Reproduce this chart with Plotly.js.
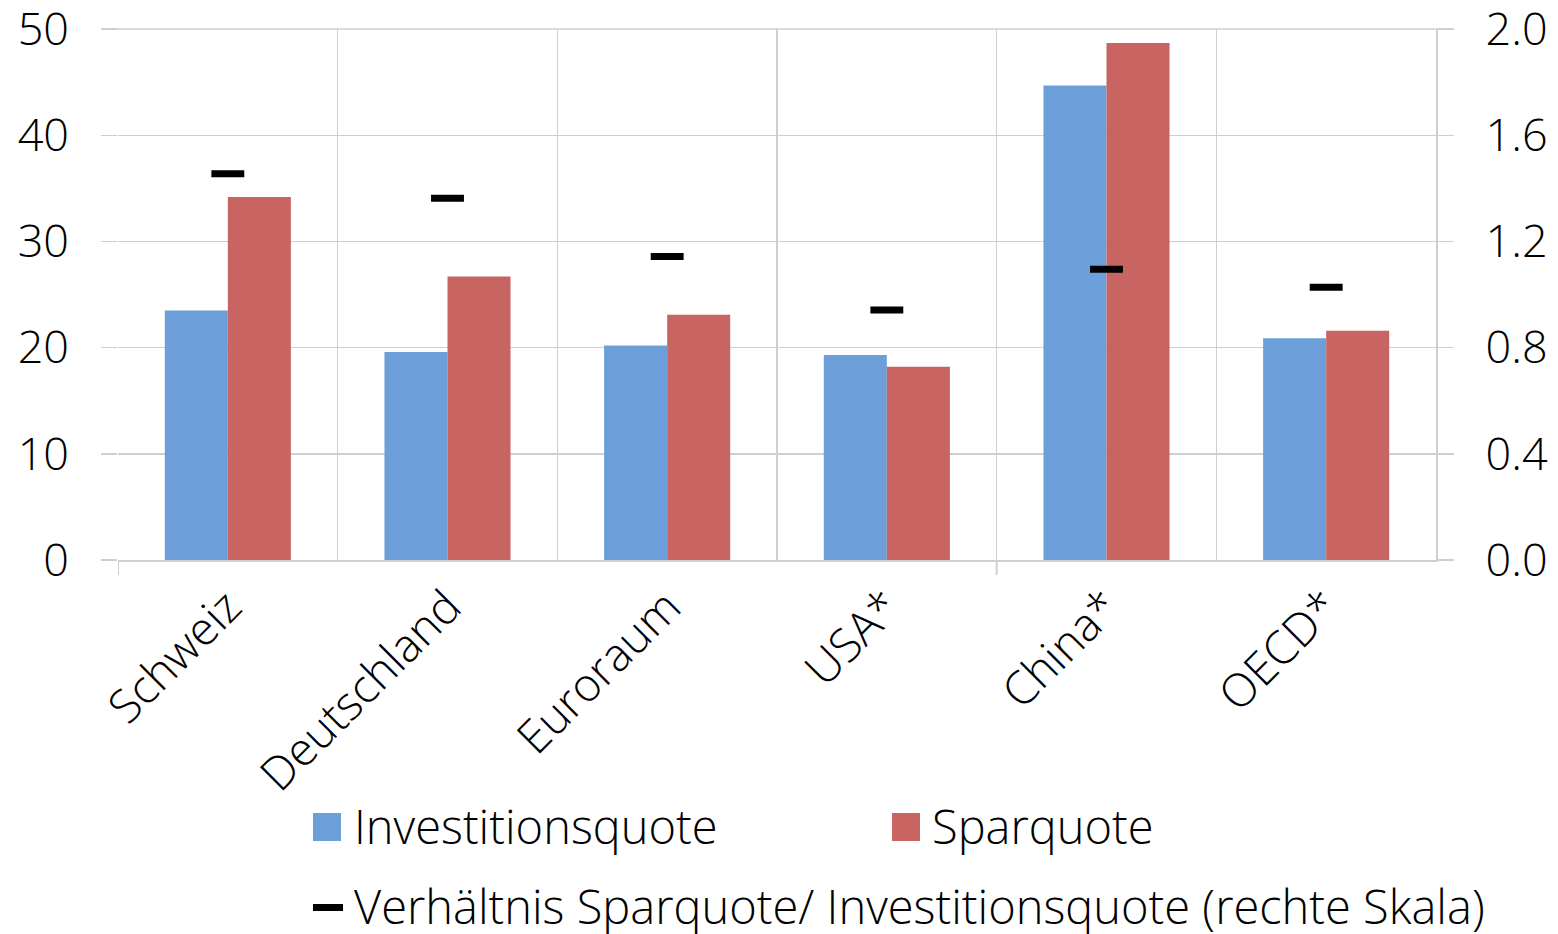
<!DOCTYPE html>
<html><head><meta charset="utf-8">
<script src="https://cdn.plot.ly/plotly-3.0.1.min.js"></script>
<style>html,body{margin:0;padding:0;background:#fff;}#chart{width:1558px;height:934px;}</style>
</head><body><div id="chart"></div>
<script>
var categories = ["Schweiz", "Deutschland", "Euroraum", "USA*", "China*", "OECD*"];
var investitionsquote = [23.5, 19.6, 20.2, 19.3, 44.7, 20.9];
var sparquote = [34.2, 26.7, 23.1, 18.2, 48.7, 21.6];
var verhaeltnis = [1.455, 1.363, 1.144, 0.942, 1.096, 1.028];
var seriesNames = ["Investitionsquote", "Sparquote", "Verhältnis Sparquote/ Investitionsquote (rechte Skala)"];
var yTicksLeft = [0, 10, 20, 30, 40, 50];
var yTicksRight = [0, 0.4, 0.8, 1.2, 1.6, 2.0];

var W = 1558, H = 934, L = 118, R = 1436, T = 29, B = 560;
function px(x){ return (x - L) / (R - L); }
function py(y){ return (B - y) / (B - T); }

var FONT = "Open Sans, Noto Sans, sans-serif";
var BLUE = "#6C9FDA", RED = "#C86562", GRID = "#cfcfcf";
var FS = 45, FL = 47;

var traces = [
  {type: "bar", x: categories, y: investitionsquote, name: seriesNames[0], marker: {color: BLUE}, yaxis: "y", showlegend: false},
  {type: "bar", x: categories, y: sparquote, name: seriesNames[1], marker: {color: RED}, yaxis: "y", showlegend: false},
  {type: "scatter", mode: "markers", x: categories, y: verhaeltnis, name: seriesNames[2], yaxis: "y2", showlegend: false,
   marker: {symbol: "line-ew-open", size: 23.5, color: "#000", line: {width: 7, color: "#000"}}}
];

var shapes = [
  {type: "line", xref: "x", yref: "paper", x0: -0.5, x1: -0.5, y0: 0, y1: -15/(B-T), line: {color: GRID, width: 2}},
  {type: "line", xref: "x", yref: "paper", x0: 3.5, x1: 3.5, y0: 0, y1: -15/(B-T), line: {color: GRID, width: 2}},
  {type: "line", xref: "paper", yref: "paper", x0: px(101), x1: px(1453), y0: 1, y1: 1, line: {color: GRID, width: 1.5}},
  // legend symbols
  {type: "rect", xref: "paper", yref: "paper", x0: px(313), x1: px(341), y0: py(841), y1: py(813), fillcolor: BLUE, line: {width: 0}},
  {type: "rect", xref: "paper", yref: "paper", x0: px(892), x1: px(920), y0: py(841), y1: py(813), fillcolor: RED, line: {width: 0}},
  {type: "rect", xref: "paper", yref: "paper", x0: px(313), x1: px(343), y0: py(911), y1: py(904), fillcolor: "#000", line: {width: 0}}
];

var annotations = [
  {xref: "paper", yref: "paper", x: px(352), y: py(826), text: seriesNames[0], showarrow: false, xanchor: "left", yanchor: "middle", font: {family: FONT, size: FL, color: "#000", weight: 300}},
  {xref: "paper", yref: "paper", x: px(930), y: py(826), text: seriesNames[1], showarrow: false, xanchor: "left", yanchor: "middle", font: {family: FONT, size: FL, color: "#000", weight: 300}},
  {xref: "paper", yref: "paper", x: px(352), y: py(906), text: seriesNames[2], showarrow: false, xanchor: "left", yanchor: "middle", font: {family: FONT, size: FL, color: "#000", weight: 300}}
];

var layout = {
  width: W, height: H,
  margin: {l: L, r: W - R, t: T, b: H - B, pad: 0},
  paper_bgcolor: "#fff", plot_bgcolor: "#fff",
  barmode: "group", bargap: 0.426, bargroupgap: 0,
  font: {family: FONT, size: FS, color: "#000", weight: 300},
  showlegend: false,
  xaxis: {
    type: "category", tickson: "boundaries", showgrid: true, gridcolor: GRID, gridwidth: 1.5,
    ticks: "", tickangle: -45, showline: true, linecolor: GRID, linewidth: 1.5,
    tickfont: {family: FONT, size: 46, color: "#000", weight: 300}, zeroline: false, range: [-0.5, 5.5]
  },
  yaxis: {
    range: [0, 50.02], tickvals: yTicksLeft, showgrid: true, gridcolor: GRID, gridwidth: 1.5,
    ticks: "outside", ticklen: 16, tickcolor: GRID, tickwidth: 1.5, zeroline: false, ticklabeloverflow: "allow",
    showline: false, ticklabelstandoff: 23, tickfont: {family: FONT, size: FS, color: "#000", weight: 300}
  },
  yaxis2: {
    range: [0, 2.0008], tickvals: yTicksRight, tickformat: ".1f", overlaying: "y", side: "right",
    showgrid: false, ticks: "outside", ticklen: 16, tickcolor: GRID, tickwidth: 1.5, zeroline: false, ticklabeloverflow: "allow",
    showline: true, linecolor: GRID, linewidth: 1.5, ticklabelstandoff: 23, tickfont: {family: FONT, size: FS, color: "#000", weight: 300}
  },
  shapes: shapes,
  annotations: annotations
};

Plotly.newPlot("chart", traces, layout, {displayModeBar: false, staticPlot: true});
</script></body></html>
